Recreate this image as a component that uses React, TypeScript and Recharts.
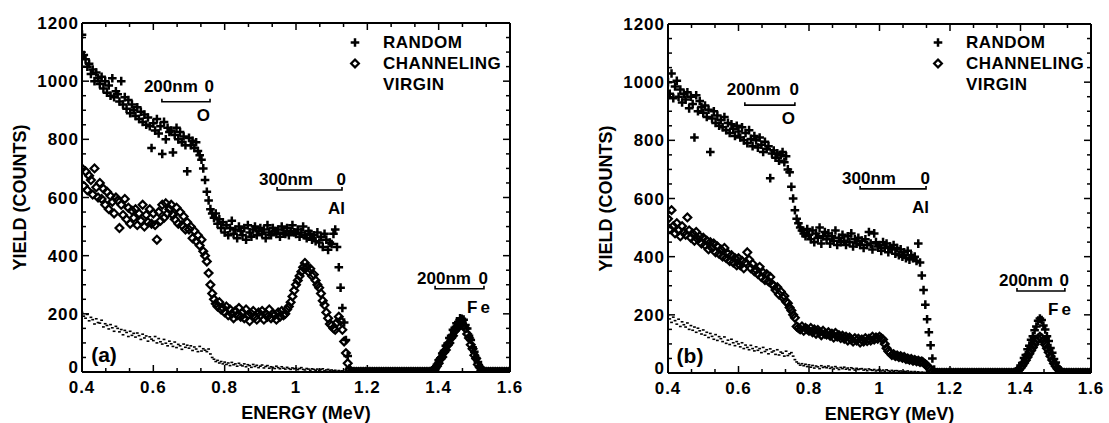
import React from 'react';
import { ScatterChart, Scatter, XAxis, YAxis, ReferenceLine, Legend, Label } from 'recharts';

const FONT = '"Liberation Sans", Arial, Helvetica, sans-serif';

// detector channel energies (MeV), 0.005 MeV per channel from 0.4 to 1.6
const ENERGY_START = 0.4;
const ENERGY_STEP = 0.005;
const ENERGY: number[] = Array.from({ length: 241 }, (_, i) => Math.round((ENERGY_START + i * ENERGY_STEP) * 1000) / 1000);

const SERIES_NAMES = ['RANDOM', 'CHANNELING', 'VIRGIN'];

const X_TICKS = [0.4, 0.4667, 0.5333, 0.6, 0.6667, 0.7333, 0.8, 0.8667, 0.9333, 1.0, 1.0667, 1.1333, 1.2, 1.2667, 1.3333, 1.4, 1.4667, 1.5333, 1.6];
const X_LABEL_TICKS = [0.4, 0.6, 0.8, 1.0, 1.2, 1.4, 1.6];
const X_TICK_LABELS = ['0.4', '0.6', '0.8', '1', '1.2', '1.4', '1.6'];
const Y_TICKS = [0, 50, 100, 150, 200, 250, 300, 350, 400, 450, 500, 550, 600, 650, 700, 750, 800, 850, 900, 950, 1000, 1050, 1100, 1150, 1200];
const Y_LABEL_TICKS = [0, 200, 400, 600, 800, 1000, 1200];

// ---------- panel (a) ----------
const A_RANDOM = [
  1160, 1090, 1075, 1050, 1060, 1025, 1040, 1000, 1030, 1010,
  990, 1015, 975, 1000, 960, 985, 950, 1010, 945, 965,
  955, 930, 1000, 920, 945, 905, 935, 890, 920, 900,
  880, 910, 870, 895, 860, 885, 850, 875, 845, 770,
  855, 830, 870, 820, 845, 750, 860, 800, 840, 825,
  830, 755, 815, 840, 800, 825, 790, 810, 780, 690,
  805, 780, 795, 770, 790, 760, 745, 730, 700, 660,
  620, 590, 560, 545, 530, 545, 510, 525, 495, 515,
  480, 505, 470, 495, 520, 475, 490, 460, 500, 485,
  470, 495, 455, 505, 480, 465, 490, 500, 470, 485,
  495, 475, 490, 460, 505, 480, 470, 495, 485, 475,
  490, 465, 500, 480, 475, 495, 470, 485, 505, 480,
  475, 490, 465, 480, 500, 470, 460, 485, 475, 455,
  470, 450, 480, 445, 465, 430, 475, 455, 420, 445,
  440, 475, 490, 430, 360, 290, 220, 170, 110, 55,
  12, 0, 0, 0, 0, 0, 0, 0, 0, 0,
  0, 0, 0, 0, 0, 0, 0, 0, 0, 0,
  0, 0, 0, 0, 0, 0, 0, 0, 0, 0,
  0, 0, 0, 0, 0, 0, 0, 0, 0, 0,
  0, 0, 0, 0, 0, 0, 3, 8, 15, 25,
  40, 47, 64, 72, 90, 98, 117, 125, 145, 152,
  168, 172, 185, 183, 180, 162, 150, 125, 110, 85,
  70, 48, 34, 16, 9, 2, 0, 0, 0, 0,
  0, 0, 0, 0, 0, 0, 0, 0, 0, 0,
  0,
];

const A_CHANNELING = [
  700, 640, 690, 625, 675, 660, 610, 700, 635, 600,
  650, 595, 630, 575, 620, 560, 605, 585, 545, 600,
  590, 495, 575, 540, 595, 525, 565, 510, 555, 530,
  560, 505, 545, 520, 575, 500, 540, 515, 560, 510,
  545, 505, 455, 550, 520, 575, 530, 580, 545, 560,
  575, 540, 525, 565, 510, 550, 505, 535, 490, 515,
  490, 500, 460, 485, 450, 470, 435, 455, 415, 400,
  380, 340, 300, 270, 250, 235, 225, 240, 215, 220,
  205, 225, 195, 215, 200, 185, 210, 195, 220, 190,
  205, 185, 215, 195, 175, 200, 210, 190, 180, 205,
  195, 210, 180, 200, 190, 215, 185, 200, 195, 180,
  205, 190, 210, 195, 200, 215, 225, 240, 260, 280,
  300, 315, 330, 345, 360, 375, 360, 345, 355, 330,
  335, 315, 300, 290, 270, 245, 230, 205, 185, 165,
  160, 150, 145, 170, 190, 175, 145, 105, 65, 30,
  8, 0, 0, 0, 0, 0, 0, 0, 0, 0,
  0, 0, 0, 0, 0, 0, 0, 0, 0, 0,
  0, 0, 0, 0, 0, 0, 0, 0, 0, 0,
  0, 0, 0, 0, 0, 0, 0, 0, 0, 0,
  0, 0, 0, 0, 0, 0, 2, 6, 12, 20,
  30, 45, 52, 68, 76, 92, 100, 117, 125, 141,
  148, 160, 162, 168, 158, 150, 131, 117, 94, 80,
  58, 46, 26, 17, 6, 2, 0, 0, 0, 0,
  0, 0, 0, 0, 0, 0, 0, 0, 0, 0,
  0,
];

const A_VIRGIN = [
  205, 192, 185, 198, 176, 188, 180, 165, 183, 170,
  168, 178, 155, 166, 160, 148, 163, 152, 140, 157,
  150, 138, 146, 128, 143, 136, 122, 140, 126, 133,
  120, 134, 125, 112, 130, 117, 124, 106, 121, 113,
  108, 122, 100, 115, 104, 96, 112, 99, 90, 106,
  97, 88, 103, 84, 95, 90, 78, 96, 85, 92,
  82, 90, 74, 86, 79, 70, 88, 72, 80, 75,
  70, 79, 62, 50, 44, 36, 40, 31, 36, 28,
  34, 26, 31, 22, 33, 25, 28, 20, 30, 24,
  21, 28, 18, 25, 22, 16, 26, 19, 23, 15,
  20, 24, 14, 19, 22, 13, 18, 16, 12, 20,
  15, 11, 18, 13, 10, 16, 12, 9, 14, 11,
  13, 8, 12, 15, 9, 7, 12, 10, 6, 11,
  9, 6, 10, 5, 8, 11, 4, 7, 9, 5,
  7, 4, 6, 2, 5, 3, 4, 1, 3, 2,
  0,
];

// ---------- panel (b) ----------
const B_RANDOM = [
  1000, 960, 1030, 945, 985, 1005, 950, 975, 930, 960,
  940, 965, 910, 950, 925, 810, 955, 900, 935, 915,
  895, 920, 880, 905, 760, 875, 900, 860, 885, 850,
  870, 845, 880, 835, 860, 825, 855, 840, 815, 850,
  830, 810, 845, 800, 825, 790, 835, 805, 780, 815,
  800, 775, 810, 785, 760, 795, 770, 780, 670, 755,
  765, 740, 755, 730, 750, 760, 725, 745, 700, 690,
  640, 600, 560, 530, 515, 500, 490, 480, 470, 495,
  475, 460, 490, 450, 480, 465, 500, 445, 470, 485,
  460, 480, 445, 470, 455, 490, 440, 465, 450, 475,
  455, 440, 470, 450, 480, 435, 460, 445, 465, 440,
  455, 430, 460, 440, 485, 445, 425, 480, 450, 435,
  440, 420, 450, 430, 445, 415, 435, 425, 440, 410,
  430, 405, 425, 400, 415, 395, 420, 390, 405, 395,
  400, 385, 445, 380, 335, 285, 235, 185, 140, 95,
  50, 12, 0, 0, 0, 0, 0, 0, 0, 0,
  0, 0, 0, 0, 0, 0, 0, 0, 0, 0,
  0, 0, 0, 0, 0, 0, 0, 0, 0, 0,
  0, 0, 0, 0, 0, 0, 0, 0, 0, 0,
  0, 0, 0, 0, 0, 0, 0, 3, 7, 14,
  26, 34, 52, 62, 82, 94, 114, 126, 147, 160,
  180, 187, 182, 163, 150, 126, 110, 86, 70, 48,
  36, 20, 13, 5, 2, 0, 0, 0, 0, 0,
  0, 0, 0, 0, 0, 0, 0, 0, 0, 0,
  0,
];

const B_CHANNELING = [
  530, 495, 560, 505, 480, 515, 490, 470, 505, 485,
  475, 535, 490, 465, 480, 455, 485, 460, 470, 445,
  465, 440, 455, 425, 450, 430, 445, 415, 435, 410,
  425, 400, 430, 395, 410, 385, 405, 380, 395, 370,
  395, 370, 385, 360, 380, 415, 390, 360, 375, 350,
  355, 340, 365, 330, 345, 320, 340, 315, 330, 305,
  300, 285, 295, 270, 280, 260, 265, 245, 240, 225,
  215, 200, 190, 160, 155, 150, 160, 145, 155, 150,
  145, 155, 140, 150, 135, 148, 140, 130, 145, 135,
  132, 140, 128, 135, 122, 138, 125, 130, 120, 128,
  118, 125, 112, 122, 115, 108, 120, 112, 118, 105,
  115, 108, 120, 110, 118, 112, 125, 115, 122, 118,
  125, 120, 115, 100, 85, 75, 70, 62, 65, 58,
  60, 55, 58, 52, 55, 48, 50, 45, 48, 42,
  45, 40, 42, 38, 40, 35, 30, 25, 18, 12,
  5, 0, 0, 0, 0, 0, 0, 0, 0, 0,
  0, 0, 0, 0, 0, 0, 0, 0, 0, 0,
  0, 0, 0, 0, 0, 0, 0, 0, 0, 0,
  0, 0, 0, 0, 0, 0, 0, 0, 0, 0,
  0, 0, 0, 0, 0, 0, 0, 2, 5, 10,
  17, 25, 34, 44, 55, 66, 77, 88, 99, 110,
  119, 125, 120, 110, 98, 85, 71, 58, 45, 33,
  23, 15, 9, 4, 1, 0, 0, 0, 0, 0,
  0, 0, 0, 0, 0, 0, 0, 0, 0, 0,
  0,
];

const B_VIRGIN = [
  198, 186, 174, 192, 180, 168, 185, 160, 176, 166,
  158, 172, 150, 163, 147, 158, 140, 154, 145, 134,
  148, 130, 140, 122, 136, 126, 116, 132, 112, 125,
  118, 108, 124, 102, 113, 98, 116, 104, 94, 108,
  100, 90, 104, 84, 96, 88, 80, 95, 84, 76,
  90, 78, 84, 70, 88, 74, 80, 66, 83, 72,
  76, 64, 80, 62, 72, 68, 58, 75, 60, 66,
  70, 58, 46, 38, 33, 27, 32, 25, 30, 22,
  28, 20, 26, 17, 24, 21, 15, 25, 19, 22,
  18, 24, 16, 20, 14, 22, 17, 12, 19, 15,
  20, 13, 17, 11, 18, 15, 10, 16, 12, 14,
  15, 10, 13, 8, 14, 11, 9, 12, 7, 10,
  12, 7, 10, 6, 11, 8, 5, 9, 6, 8,
  8, 5, 7, 3, 6, 4, 7, 3, 5, 2,
  5, 2, 4, 1, 3, 2, 1, 2, 1, 0,
  0,
];

// depth-scale brackets: energy span (MeV) and height (counts)
const A_BRACKETS = [
  { depth: '200nm', element: 'O', from: 0.624, to: 0.759, counts: 929 },
  { depth: '300nm', element: 'Al', from: 0.947, to: 1.129, counts: 626 },
  { depth: '200nm', element: 'Fe', from: 1.39, to: 1.527, counts: 286 },
];
const B_BRACKETS = [
  { depth: '200nm', element: 'O', from: 0.618, to: 0.76, counts: 921 },
  { depth: '300nm', element: 'Al', from: 0.945, to: 1.132, counts: 633 },
  { depth: '200nm', element: 'Fe', from: 1.39, to: 1.526, counts: 282 },
];

// ---------- styles ----------
const BRACKET_STYLE: Record<string, { above: number; below: number; elemDx: number; spacing: number }> = {
  O: { above: 16, below: 13, elemDx: 0, spacing: 0 },
  Al: { above: 11, below: 18, elemDx: 3, spacing: 0 },
  Fe: { above: 11, below: 18, elemDx: 9, spacing: 3 },
};

const TEXT = { fontFamily: FONT, fontWeight: 700, fill: '#000' } as const;
const TICK_STROKE = { stroke: '#000', strokeWidth: 1.5 };
const AXIS_LINE = { stroke: '#000', strokeWidth: 2 };
const MAJOR_LEN = 7;
const MINOR_LEN = 4;

const near = (a: number, b: number) => Math.abs(a - b) < 1e-6;
const xLabelIndex = (v: number) => X_LABEL_TICKS.findIndex((t) => near(t, v));
const isYMajor = (v: number) => Y_LABEL_TICKS.some((t) => near(t, v));

const BottomTick = (p: any) => {
  const { x, y, payload } = p;
  const idx = xLabelIndex(payload.value);
  const major = idx >= 0;
  return (
    <g>
      <line x1={x} x2={x} y1={y} y2={y - (major ? MAJOR_LEN : MINOR_LEN)} {...TICK_STROKE} />
      {major && (
        <text x={x} y={y + 21} textAnchor="middle" fontSize={17} letterSpacing={1} {...TEXT}>
          {X_TICK_LABELS[idx]}
        </text>
      )}
    </g>
  );
};
const TopTick = (p: any) => {
  const { x, y, payload } = p;
  const major = xLabelIndex(payload.value) >= 0;
  return <line x1={x} x2={x} y1={y} y2={y + (major ? MAJOR_LEN : MINOR_LEN)} {...TICK_STROKE} />;
};
const LeftTick = (p: any) => {
  const { x, y, payload } = p;
  const major = isYMajor(payload.value);
  // the bottom-most label sits a little higher so it clears the x labels
  const dy = near(payload.value, 0) ? 1 : 6;
  return (
    <g>
      <line x1={x} x2={x + (major ? MAJOR_LEN : MINOR_LEN)} y1={y} y2={y} {...TICK_STROKE} />
      {major && (
        <text x={x - 3} y={y + dy} textAnchor="end" fontSize={17} letterSpacing={1} {...TEXT}>
          {String(payload.value)}
        </text>
      )}
    </g>
  );
};
const RightTick = (p: any) => {
  const { x, y, payload } = p;
  const major = isYMajor(payload.value);
  return <line x1={x} x2={x - (major ? MAJOR_LEN : MINOR_LEN)} y1={y} y2={y} {...TICK_STROKE} />;
};

const PlusMark = ({ cx, cy }: any) => (
  <path d={`M${cx - 4.3},${cy} H${cx + 4.3} M${cx},${cy - 4.3} V${cy + 4.3}`} stroke="#000" strokeWidth={2.5} fill="none" />
);
const DiamondMark = ({ cx, cy }: any) => (
  <path d={`M${cx},${cy - 3.9} L${cx + 3.9},${cy} L${cx},${cy + 3.9} L${cx - 3.9},${cy} Z`} stroke="#000" strokeWidth={2.2} fill="none" />
);
const VirginMark = ({ cx, cy }: any) => <rect x={cx - 1.4} y={cy - 0.8} width={2.8} height={1.6} fill="#000" />;

const renderLegend = (props: any) => {
  const items = [...(props.payload || [])].sort((a: any, b: any) => SERIES_NAMES.indexOf(a.value) - SERIES_NAMES.indexOf(b.value));
  return (
    <div style={{ fontFamily: FONT, fontWeight: 700, fontSize: 17, letterSpacing: 0.5, color: '#000' }}>
      {items.map((e: any) => (
        <div key={e.value} style={{ display: 'flex', alignItems: 'center', height: 21, whiteSpace: 'nowrap' }}>
          <svg width={38} height={21} style={{ flex: 'none' }}>
            {e.value === 'RANDOM' && <PlusMark cx={10} cy={10.5} />}
            {e.value === 'CHANNELING' && <DiamondMark cx={10} cy={10.5} />}
          </svg>
          <span>{e.value}</span>
        </div>
      ))}
    </div>
  );
};

const bracketShape = (b: any) => (props: any) => {
  const { x1, y1, x2 } = props;
  const s = BRACKET_STYLE[b.element];
  return (
    <g>
      <path d={`M${x1},${y1 - 3} V${y1} H${x2} V${y1 - 3}`} stroke="#000" strokeWidth={1.6} fill="none" />
      <text x={x1 - 18} y={y1 - s.above + 6} fontSize={17} {...TEXT}>{b.depth}</text>
      <text x={x2 + 4} y={y1 - s.above + 6} textAnchor="end" fontSize={17} {...TEXT}>0</text>
      <text x={x2 + s.elemDx} y={y1 + s.below + 6} textAnchor="end" fontSize={17} letterSpacing={s.spacing} {...TEXT}>{b.element}</text>
    </g>
  );
};

const xTitle = (props: any) => {
  const vb = props.viewBox;
  return (
    <text x={vb.x + vb.width / 2 + 10} y={vb.y + 47} textAnchor="middle" fontSize={18} {...TEXT}>
      ENERGY (MeV)
    </text>
  );
};
const yTitle = (props: any) => {
  const vb = props.viewBox;
  const cx = vb.x + vb.width - 62;
  const cy = vb.y + vb.height / 2;
  return (
    <text x={cx} y={cy} transform={`rotate(-90 ${cx} ${cy})`} textAnchor="middle" dominantBaseline="central" fontSize={18} {...TEXT}>
      YIELD (COUNTS)
    </text>
  );
};
const tagLabel = (tag: string) => (props: any) => {
  const vb = props.viewBox;
  return (
    <text x={vb.x + 22} y={vb.y - 10} textAnchor="middle" fontSize={21} {...TEXT}>
      {tag}
    </text>
  );
};

const toPoints = (vals: number[]) => vals.map((y, i) => ({ x: ENERGY[i], y }));

function Panel({ width, margin, random, channeling, virgin, brackets, tag, legendLeft }: any) {
  return (
    <ScatterChart width={width} height={423} margin={margin}>
      <XAxis xAxisId="bottom" dataKey="x" type="number" domain={[0.4, 1.6]} allowDataOverflow ticks={X_TICKS} interval={0}
        height={30} tickSize={0} tickMargin={0} tickLine={false} tick={BottomTick} axisLine={AXIS_LINE}>
        <Label content={xTitle} />
        <Label content={tagLabel(tag)} />
      </XAxis>
      <XAxis xAxisId="top" orientation="top" dataKey="x" type="number" domain={[0.4, 1.6]} allowDataOverflow ticks={X_TICKS} interval={0}
        height={10} tickSize={0} tickMargin={0} tickLine={false} tick={TopTick} axisLine={AXIS_LINE} />
      <YAxis yAxisId="left" dataKey="y" type="number" domain={[0, 1200]} allowDataOverflow ticks={Y_TICKS} interval={0}
        width={60} tickSize={0} tickMargin={0} tickLine={false} tick={LeftTick} axisLine={AXIS_LINE} label={{ content: yTitle }} />
      <YAxis yAxisId="right" orientation="right" dataKey="y" type="number" domain={[0, 1200]} allowDataOverflow ticks={Y_TICKS} interval={0}
        width={10} tickSize={0} tickMargin={0} tickLine={false} tick={RightTick} axisLine={AXIS_LINE} />
      <Scatter name={SERIES_NAMES[0]} xAxisId="bottom" yAxisId="left" data={toPoints(random)} shape={PlusMark} isAnimationActive={false} />
      <Scatter name={SERIES_NAMES[1]} xAxisId="bottom" yAxisId="left" data={toPoints(channeling)} shape={DiamondMark} isAnimationActive={false} />
      <Scatter name={SERIES_NAMES[2]} xAxisId="bottom" yAxisId="left" data={toPoints(virgin)} shape={VirginMark} isAnimationActive={false} />
      {brackets.map((b: any) => (
        <ReferenceLine key={b.element} xAxisId="bottom" yAxisId="left" ifOverflow="visible"
          segment={[{ x: b.from, y: b.counts }, { x: b.to, y: b.counts }]} shape={bracketShape(b)} />
      ))}
      <Legend layout="vertical" align="center" verticalAlign="middle" content={renderLegend}
        wrapperStyle={{ left: legendLeft, top: 32, width: 200, height: 66 }} />
    </ScatterChart>
  );
}

export default function App() {
  return (
    <div style={{ position: 'absolute', left: 0, top: 0, width: 1109, height: 423, background: '#fff', overflow: 'hidden' }}>
      <div style={{ position: 'absolute', left: 0, top: 0 }}>
        <Panel width={560} margin={{ top: 13, right: 40, bottom: 21, left: 22 }} random={A_RANDOM} channeling={A_CHANNELING}
          virgin={A_VIRGIN} brackets={A_BRACKETS} tag="(a)" legendLeft={345} />
      </div>
      <div style={{ position: 'absolute', left: 560, top: 0 }}>
        <Panel width={549} margin={{ top: 14, right: 8, bottom: 20, left: 48 }} random={B_RANDOM} channeling={B_CHANNELING}
          virgin={B_VIRGIN} brackets={B_BRACKETS} tag="(b)" legendLeft={368} />
      </div>
    </div>
  );
}
